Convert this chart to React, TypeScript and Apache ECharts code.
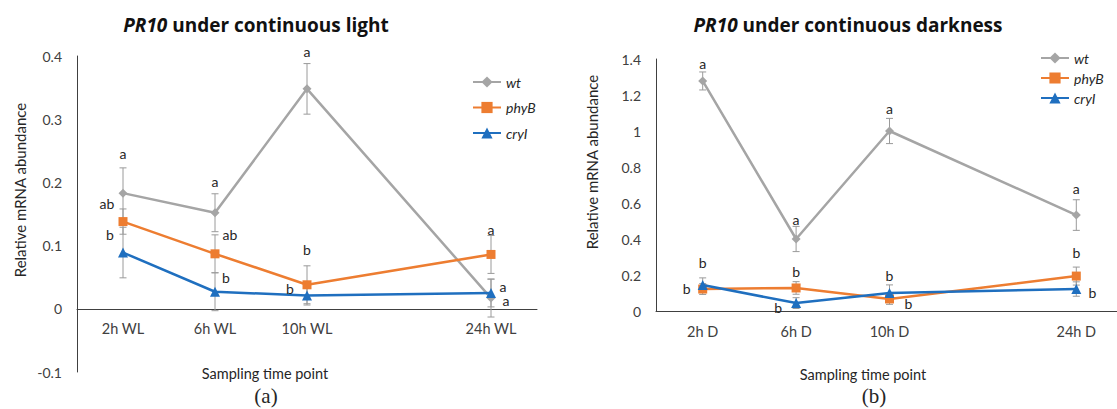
import React, { useEffect, useRef } from 'react';
import * as echarts from 'echarts';

// ---------- data ----------
const seriesNames = ['wt', 'phyB', 'cryI'];
const lightCategories = ['2h WL', '6h WL', '10h WL', '', '24h WL'];
const darkCategories = ['2h D', '6h D', '10h D', '', '24h D'];

const wtLight = [0.183, 0.152, 0.348, null, 0.017];
const phyBLight = [0.138, 0.087, 0.038, null, 0.086];
const cryILight = [0.089, 0.027, 0.021, null, 0.025];
const wtLightErr = [0.04, 0.03, 0.04, null, 0.03];
const phyBLightErr = [0.02, 0.03, 0.03, null, 0.03];
const cryILightErr = [0.04, 0.03, 0.015, null, 0.022];
const wtLightLetters = ['a', 'a', 'a', '', 'a'];
const phyBLightLetters = ['ab', 'ab', 'b', '', 'a'];
const cryILightLetters = ['b', 'b', 'b', '', 'a'];

const wtDark = [1.278, 0.4, 1.0, null, 0.533];
const phyBDark = [0.122, 0.128, 0.067, null, 0.194];
const cryIDark = [0.144, 0.044, 0.1, null, 0.122];
const wtDarkErr = [0.05, 0.07, 0.07, null, 0.085];
const phyBDarkErr = [0.03, 0.035, 0.03, null, 0.05];
const cryIDarkErr = [0.04, 0.03, 0.045, null, 0.04];
const wtDarkLetters = ['a', 'a', 'a', '', 'a'];
const phyBDarkLetters = ['b', 'b', 'b', '', 'b'];
const cryIDarkLetters = ['b', 'b', 'b', '', 'b'];

const lightTicks = { min: -0.1, max: 0.4, interval: 0.1 };
const darkTicks = { min: 0, max: 1.4, interval: 0.2 };

// ---------- layout / style ----------
const lightLetterOffsets = [
  [[0, -40], [0, -31], [0, -37], null, [15, 2]],
  [[-16, -18], [15, -19], [0, -35], null, [0, -25]],
  [[-13, -18], [11, -14], [-17, -7], null, [12, -7]],
];
const darkLetterOffsets = [
  [[0, -17], [0, -20], [0, -23], null, [0, -27]],
  [[-16, -1], [0, -16], [19, 5], null, [0, -24]],
  [[0, -23], [-18, 4], [0, -18], null, [16, 3]],
];
const colors = ['#A5A5A5', '#ED7D31', '#1F6FBF'];
const symbols = ['diamond', 'rect', 'triangle'];
const symbolSizes = [9, 9, 10];
const FONT = 'Lato, "Open Sans", sans-serif';
const TITLE_FONT = '"Open Sans", Lato, sans-serif';
const AXIS_COLOR = '#404040';

function buildSeries(
  gridIdx: number,
  values: (number | null)[][],
  errs: (number | null)[][],
  letters: string[][],
  offsets: any[][]
) {
  const out: any[] = [];
  values.forEach((vals, s) => {
    const pts = vals
      .map((v, i) =>
        v == null ? null : { i, v, e: errs[s][i] as number, t: letters[s][i], o: offsets[s][i] }
      )
      .filter(Boolean) as any[];
    out.push({
      type: 'custom',
      name: seriesNames[s] + '-err',
      xAxisIndex: gridIdx,
      yAxisIndex: gridIdx,
      z: 1,
      silent: true,
      encode: { x: 0, y: 1 },
      data: pts.map((p) => [p.i, p.v]),
      renderItem: (params: any, api: any) => {
        const p = pts[params.dataIndex];
        const top = api.coord([p.i, p.v + p.e]);
        const bot = api.coord([p.i, p.v - p.e]);
        const hw = 3.5;
        const st = { stroke: '#9a9a9a', lineWidth: 1 };
        return {
          type: 'group',
          children: [
            { type: 'line', shape: { x1: top[0], y1: top[1], x2: bot[0], y2: bot[1] }, style: st },
            { type: 'line', shape: { x1: top[0] - hw, y1: top[1], x2: top[0] + hw, y2: top[1] }, style: st },
            { type: 'line', shape: { x1: bot[0] - hw, y1: bot[1], x2: bot[0] + hw, y2: bot[1] }, style: st },
          ],
        };
      },
    });
    out.push({
      type: 'line',
      name: seriesNames[s],
      xAxisIndex: gridIdx,
      yAxisIndex: gridIdx,
      z: 2 + s,
      data: vals.map((v) => (v == null ? '-' : v)),
      connectNulls: true,
      symbol: symbols[s],
      symbolSize: symbolSizes[s],
      showAllSymbol: true,
      itemStyle: { color: colors[s] },
      lineStyle: { color: colors[s], width: 2.5 },
    });
    out.push({
      type: 'custom',
      name: seriesNames[s] + '-letters',
      xAxisIndex: gridIdx,
      yAxisIndex: gridIdx,
      z: 10,
      silent: true,
      encode: { x: 0, y: 1 },
      data: pts.map((p) => [p.i, p.v]),
      renderItem: (params: any, api: any) => {
        const p = pts[params.dataIndex];
        const c = api.coord([p.i, p.v]);
        return {
          type: 'text',
          x: c[0] + p.o[0],
          y: c[1] + p.o[1],
          style: {
            text: p.t,
            fill: '#262626',
            fontSize: 14,
            fontFamily: FONT,
            align: 'center',
            verticalAlign: 'middle',
          },
        };
      },
    });
  });
  return out;
}

function yAxis(gridIndex: number, ticks: any) {
  return {
    type: 'value',
    gridIndex,
    min: ticks.min,
    max: ticks.max,
    interval: ticks.interval,
    axisLine: { show: true, lineStyle: { color: AXIS_COLOR, width: 1 } },
    axisTick: { show: false },
    splitLine: { show: false },
    axisLabel: {
      margin: 15,
      fontSize: 14,
      fontFamily: FONT,
      color: AXIS_COLOR,
      formatter: (v: number) => String(Math.round(v * 10) / 10),
    },
  };
}

function xAxis(gridIndex: number, cats: string[], margin: number) {
  return {
    type: 'category',
    gridIndex,
    data: cats,
    boundaryGap: true,
    axisLine: { show: true, onZero: true, lineStyle: { color: AXIS_COLOR, width: 1 } },
    axisTick: { show: false },
    splitLine: { show: false },
    axisLabel: {
      margin,
      fontSize: 14.5,
      fontFamily: FONT,
      color: AXIS_COLOR,
      interval: 0,
    },
  };
}

function textEl(text: string, x: number, y: number, extra: any = {}, rotation = 0) {
  return {
    type: 'text',
    x,
    y,
    rotation,
    style: {
      text,
      fill: '#262626',
      fontSize: 14,
      fontFamily: FONT,
      align: 'center',
      verticalAlign: 'middle',
      ...extra,
    },
  };
}

const titleRich = {
  i: { fontStyle: 'italic', fontWeight: 'bold', fontSize: 19, fontFamily: TITLE_FONT, fill: '#111', color: '#111' },
};

export default function App() {
  const ref = useRef<HTMLDivElement>(null);
  useEffect(() => {
    if (!ref.current) return;
    const chart = echarts.init(ref.current, undefined, { renderer: 'svg' });
    const option: any = {
      animation: false,
      backgroundColor: '#ffffff',
      grid: [
        { left: 77, top: 56, width: 460, height: 316, containLabel: false, outerBoundsMode: 'none' },
        { left: 656, top: 59, width: 467, height: 252, containLabel: false, outerBoundsMode: 'none' },
      ],
      xAxis: [xAxis(0, lightCategories, -51), xAxis(1, darkCategories, 13)],
      yAxis: [yAxis(0, lightTicks), yAxis(1, darkTicks)],
      legend: [
        {
          orient: 'vertical',
          left: 467,
          top: 70,
          itemWidth: 28,
          itemHeight: 14,
          itemGap: 11.5,
          data: seriesNames,
          textStyle: { fontStyle: 'italic', fontSize: 14, fontFamily: FONT, color: '#262626' },
        },
        {
          orient: 'vertical',
          left: 1035,
          top: 46,
          itemWidth: 28,
          itemHeight: 14,
          itemGap: 6,
          data: seriesNames,
          textStyle: { fontStyle: 'italic', fontSize: 14, fontFamily: FONT, color: '#262626' },
        },
      ],
      graphic: [
        textEl('{i|PR10} under continuous light', 256, 25, {
          fontSize: 19, fontWeight: 'bold', fontFamily: TITLE_FONT, fill: '#111', rich: titleRich,
        }),
        textEl('{i|PR10} under continuous darkness', 848, 25, {
          fontSize: 19, fontWeight: 'bold', fontFamily: TITLE_FONT, fill: '#111', rich: titleRich,
        }),
        textEl('Relative mRNA abundance', 20, 190, { fontSize: 15 }, Math.PI / 2),
        textEl('Relative mRNA abundance', 592, 162, { fontSize: 15 }, Math.PI / 2),
        textEl('Sampling time point', 265, 373, { fontSize: 14.5 }),
        textEl('Sampling time point', 863, 374, { fontSize: 14.5 }),
        textEl('(a)', 266, 396, { fontSize: 21, fontFamily: '"Liberation Serif", "DejaVu Serif", serif' }),
        textEl('(b)', 874, 396, { fontSize: 21, fontFamily: '"Liberation Serif", "DejaVu Serif", serif' }),
      ],
      series: [
        ...buildSeries(
          0,
          [wtLight, phyBLight, cryILight],
          [wtLightErr, phyBLightErr, cryILightErr],
          [wtLightLetters, phyBLightLetters, cryILightLetters],
          lightLetterOffsets
        ),
        ...buildSeries(
          1,
          [wtDark, phyBDark, cryIDark],
          [wtDarkErr, phyBDarkErr, cryIDarkErr],
          [wtDarkLetters, phyBDarkLetters, cryIDarkLetters],
          darkLetterOffsets
        ),
      ],
    };
    chart.setOption(option);
    return () => chart.dispose();
  }, []);
  return (
    <div
      ref={ref}
      style={{ position: 'fixed', left: 0, top: 0, width: 1117, height: 409, background: '#fff' }}
    />
  );
}
